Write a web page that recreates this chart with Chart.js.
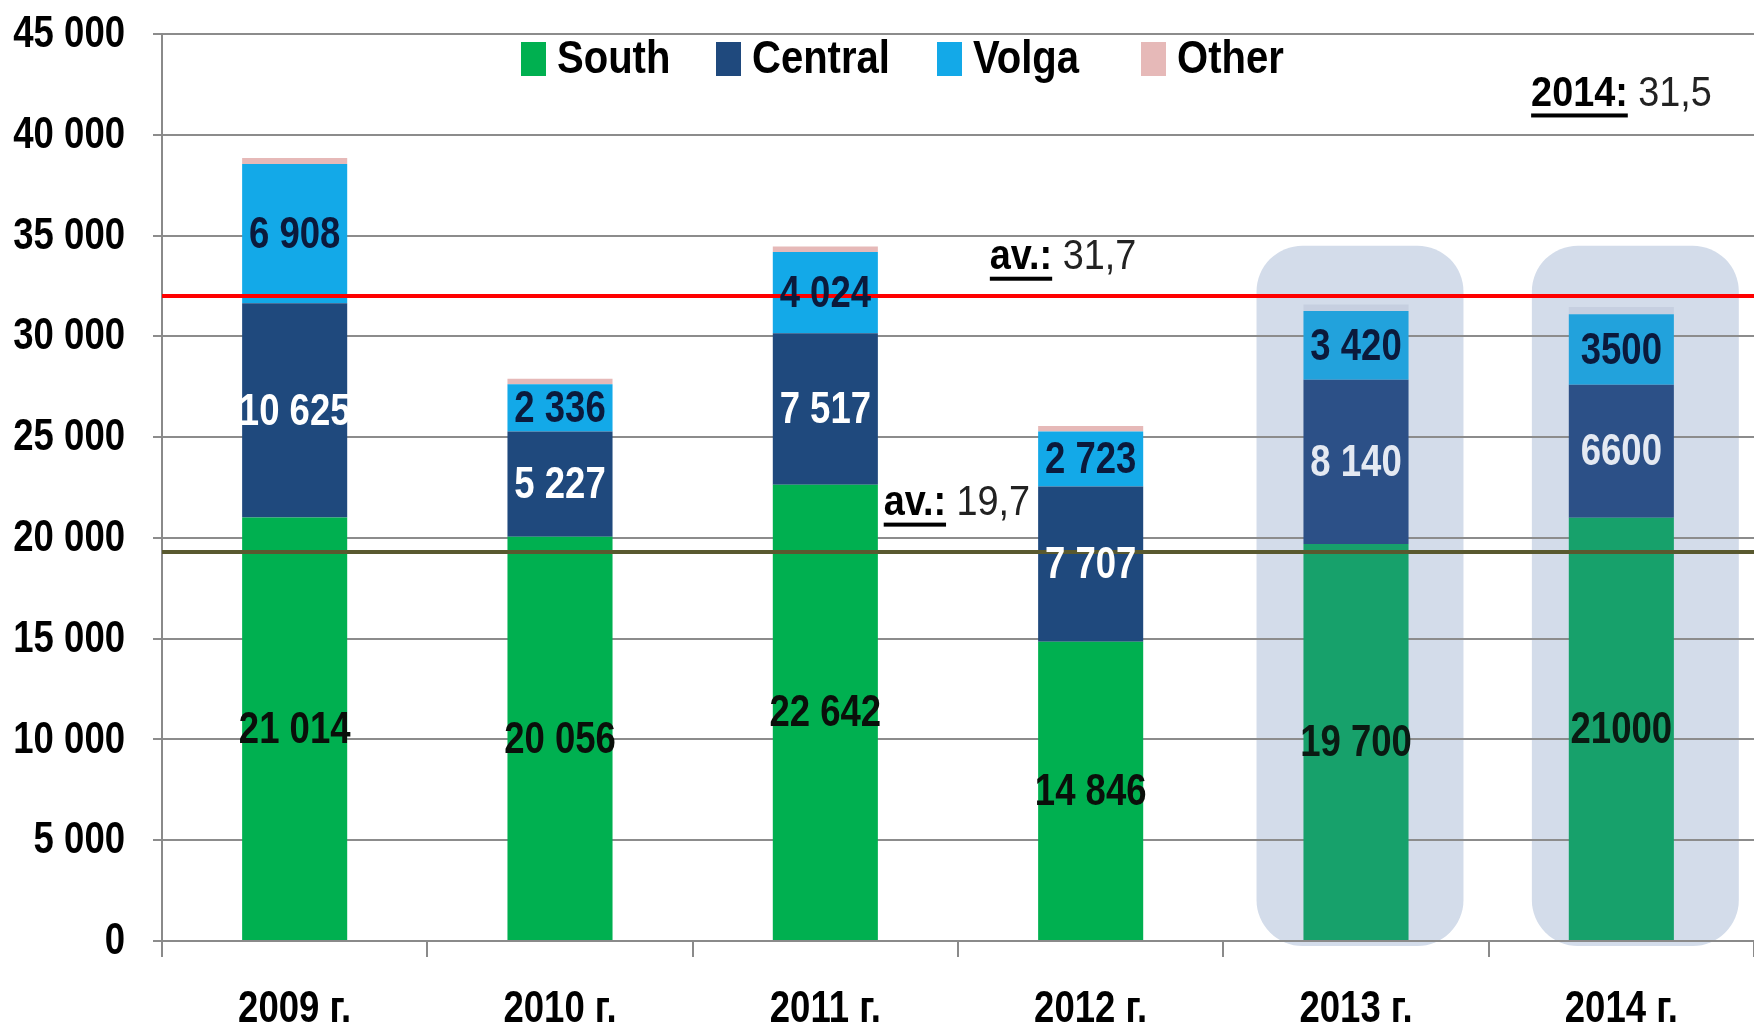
<!DOCTYPE html>
<html lang="en">
<head>
  <meta charset="UTF-8">
  <title>Regional volumes 2009-2014</title>
  <style>
    * {
      margin: 0;
      padding: 0;
      box-sizing: border-box;
    }

    body {
      background: #fff;
      overflow: hidden;
    }

    .chart-box {
      position: relative;
      width: 1754px;
      height: 1028px;
    }
  </style>
  <script src="https://cdn.jsdelivr.net/npm/chart.js"></script>
</head>
<body>

  <div class="chart-box">
    <canvas id="regionChart"></canvas>
  </div>

  <script>
// Data
const years = ['2009 г.', '2010 г.', '2011 г.', '2012 г.', '2013 г.', '2014 г.'];
const south = [21014, 20056, 22642, 14846, 19700, 21000];
const central = [10625, 5227, 7517, 7707, 8140, 6600];
const volga = [6908, 2336, 4024, 2723, 3420, 3500];
const other = [300, 280, 280, 280, 320, 350];
const seriesNames = ['South', 'Central', 'Volga', 'Other'];
const spacedThousands = [true, true, true, true, true, false];

// y axis
const yMin = 0;
const yMax = 45000;
const yStep = 5000;

// reference lines (red = total average, olive = South average)
const avgTotal = 32000;
const avgSouth = 19300;

// forecast years get a shaded box
const highlighted = [4, 5];
const highlightTop = 34500;

// notes: [bold part, plain part, category position, value]
const notes = [
  ['av.:', ' 31,7', 2.62, 33900],
  ['av.:', ' 19,7', 2.22, 21700],
  ['2014:', ' 31,5', 4.66, 42000]
];

// Calibri-like look: Arial metrics squeezed sideways
const FONT = '"Liberation Sans", Arial, sans-serif';
const SQUEEZE = 0.83;

const fmt = (n, spaced) => spaced
  ? String(n).replace(/\B(?=(\d{3})+(?!\d))/g, ' ')
  : String(n);

// colours: normal years, and the tinted look inside the shaded box
const colors = {
  South: ['#00b050', '#17a16b'],
  Central: ['#1f497d', '#2c5087'],
  Volga: ['#13a9e8', '#22a2dc'],
  Other: ['#e6b9b8', '#c6cfe0']
};
const labelColors = {
  South: ['#0a0f0a', '#0a1a12'],
  Central: ['#ffffff', '#e4e9f2'],
  Volga: ['#0b1a3c', '#0b1a3c']
};

const seriesData = [south, central, volga, other];

const datasets = seriesNames.map((name, k) => ({
  label: name,
  data: seriesData[k],
  backgroundColor: years.map((_, i) => colors[name][highlighted.includes(i) ? 1 : 0]),
  borderWidth: 0,
  categoryPercentage: 1,
  barPercentage: 0.396
}));

// draw text squeezed horizontally, returns drawn width
function squeezed(ctx, text, x, y, font, align, sx) {
  ctx.save();
  ctx.font = font;
  ctx.textBaseline = 'middle';
  ctx.textAlign = align;
  ctx.translate(x, y);
  ctx.scale(sx, 1);
  ctx.fillText(text, 0, 0);
  const w = ctx.measureText(text).width * sx;
  ctx.restore();
  return w;
}

// shaded boxes behind 2013/2014, drawn before the grid
const highlightPlugin = {
  id: 'highlight',
  beforeDraw(chart) {
    const { ctx, scales: { x, y } } = chart;
    const cat = x.getPixelForValue(1) - x.getPixelForValue(0);
    ctx.save();
    ctx.fillStyle = '#d3dcea';
    highlighted.forEach(i => {
      const cx = x.getPixelForValue(i) + (i === 5 ? 14 : 4);
      const half = cat * 0.39;
      const top = y.getPixelForValue(highlightTop);
      const bottom = y.getPixelForValue(0) + 5;
      ctx.beginPath();
      ctx.roundRect(cx - half, top, half * 2, bottom - top, 46);
      ctx.fill();
    });
    ctx.restore();
  }
};

// axis labels, average lines, segment labels, legend and notes
const overlayPlugin = {
  id: 'overlay',
  afterDraw(chart) {
    const { ctx, chartArea, scales: { x, y } } = chart;
    ctx.save();

    // y tick labels
    ctx.fillStyle = '#000';
    y.ticks.forEach(t => {
      squeezed(ctx, fmt(t.value, true), 125, y.getPixelForValue(t.value) + 1,
        'bold 44px ' + FONT, 'right', SQUEEZE);
    });
    // x category labels
    years.forEach((lab, i) => {
      squeezed(ctx, lab, x.getPixelForValue(i), 1010,
        'bold 44px ' + FONT, 'center', SQUEEZE);
    });

    // average lines
    [[avgTotal, '#ff0000'], [avgSouth, '#59592f']].forEach(([v, c]) => {
      const py = y.getPixelForValue(v);
      ctx.strokeStyle = c;
      ctx.lineWidth = 4;
      ctx.beginPath();
      ctx.moveTo(chartArea.left, py);
      ctx.lineTo(chartArea.right, py);
      ctx.stroke();
    });

    // labels in the middle of each segment
    ['South', 'Central', 'Volga'].forEach((name, k) => {
      const meta = chart.getDatasetMeta(k);
      meta.data.forEach((bar, i) => {
        const mid = (bar.y + bar.base) / 2;
        ctx.fillStyle = labelColors[name][highlighted.includes(i) ? 1 : 0];
        squeezed(ctx, fmt(seriesData[k][i], spacedThousands[i]), bar.x, mid + 2,
          'bold 44px ' + FONT, 'center', SQUEEZE);
      });
    });

    // legend across the top of the plot
    const legendX = [521, 716, 937, 1141];
    seriesNames.forEach((name, k) => {
      ctx.fillStyle = colors[name][0];
      ctx.fillRect(legendX[k], 42, 25, 34);
      ctx.fillStyle = '#000';
      squeezed(ctx, name, legendX[k] + 36, 60, 'bold 46px ' + FONT, 'left', 0.87);
    });

    // notes with bold underlined head
    const cat = x.getPixelForValue(1) - x.getPixelForValue(0);
    notes.forEach(([head, tail, pos, v]) => {
      const px = x.getPixelForValue(0) + pos * cat;
      const py = y.getPixelForValue(v);
      ctx.fillStyle = '#000';
      const w = squeezed(ctx, head, px, py, 'bold 42px ' + FONT, 'left', 0.9);
      ctx.fillRect(px, py + 19, w, 4);
      ctx.fillStyle = '#222';
      squeezed(ctx, tail, px + w, py, '42px ' + FONT, 'left', 0.9);
    });

    ctx.restore();
  }
};

new Chart(document.getElementById('regionChart'), {
  type: 'bar',
  data: { labels: years, datasets },
  options: {
    responsive: true,
    maintainAspectRatio: false,
    animation: false,
    layout: { padding: { top: 34, right: 0, left: 0, bottom: 0 } },
    plugins: {
      legend: { display: false },
      tooltip: { enabled: false }
    },
    scales: {
      x: {
        stacked: true,
        afterFit(scale) { scale.height = 87; },
        grid: {
          offset: true,
          drawOnChartArea: false,
          drawTicks: true,
          tickLength: 16,
          color: '#8a8a8a',
          lineWidth: 2
        },
        border: { color: '#8a8a8a', width: 2 },
        ticks: {
          color: 'rgba(0,0,0,0)',
          padding: 4,
          font: { family: FONT, size: 10 }
        }
      },
      y: {
        stacked: true,
        min: yMin,
        max: yMax,
        afterFit(scale) { scale.width = 162; },
        grid: {
          color: '#8c8c8c',
          lineWidth: 2,
          tickLength: 9
        },
        border: { color: '#8a8a8a', width: 2 },
        ticks: {
          stepSize: yStep,
          color: 'rgba(0,0,0,0)',
          padding: 4,
          font: { family: FONT, size: 10 },
          callback: v => fmt(v, true)
        }
      }
    }
  },
  plugins: [highlightPlugin, overlayPlugin]
});
  </script>

</body>
</html>
